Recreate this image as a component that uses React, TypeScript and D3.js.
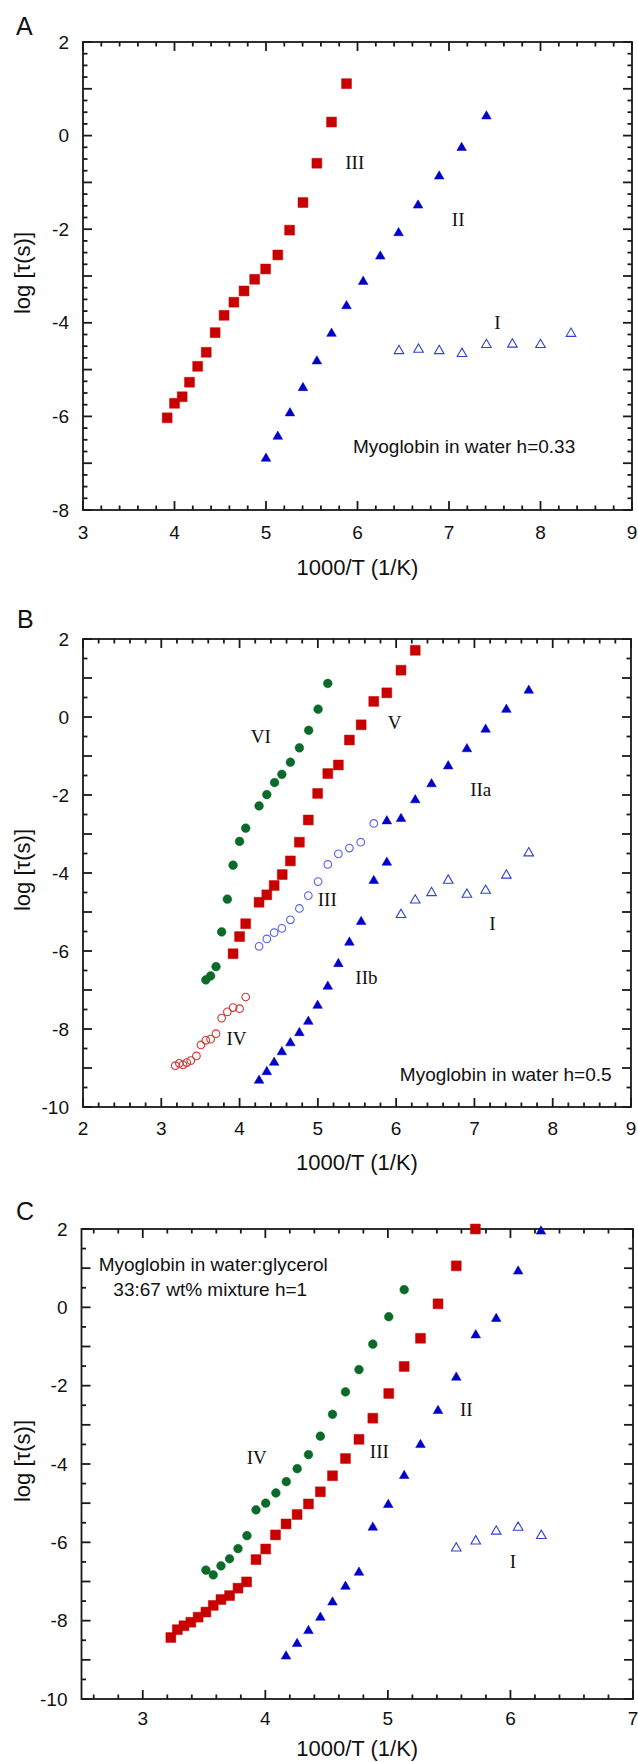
import React from 'react';
import * as d3 from 'd3';

// ---------------- Panel A data (1000/T, log tau) ----------------
const A_III: [number, number][] = [
  [3.92, -6.03], [4.0, -5.72], [4.084, -5.58], [4.164, -5.27], [4.253, -4.93], [4.347, -4.63],
  [4.444, -4.21], [4.542, -3.84], [4.649, -3.56], [4.76, -3.32], [4.876, -3.07], [4.996, -2.85],
  [5.129, -2.55], [5.258, -2.02], [5.404, -1.43], [5.556, -0.59], [5.716, 0.29], [5.88, 1.11],
];
const A_II: [number, number][] = [
  [5.0, -6.9], [5.129, -6.43], [5.262, -5.93], [5.404, -5.39], [5.556, -4.82], [5.716, -4.23],
  [5.88, -3.64], [6.062, -3.12], [6.249, -2.58], [6.449, -2.08], [6.662, -1.49], [6.893, -0.87],
  [7.138, -0.26], [7.409, 0.415],
];
const A_I: [number, number][] = [
  [6.453, -4.6], [6.667, -4.57], [6.893, -4.6], [7.142, -4.66], [7.409, -4.47], [7.693, -4.46],
  [8.0, -4.47], [8.333, -4.23],
];

// ---------------- Panel B data ----------------
const B_VI: [number, number][] = [
  [3.569, -6.74], [3.63, -6.64], [3.699, -6.4], [3.771, -5.51], [3.844, -4.67], [3.917, -3.8],
  [4.0, -3.19], [4.078, -2.85], [4.249, -2.28], [4.348, -1.99], [4.447, -1.68], [4.54, -1.47],
  [4.649, -1.16], [4.764, -0.79], [4.883, -0.34], [5.003, 0.2], [5.127, 0.86],
];
const B_V: [number, number][] = [
  [3.917, -6.07], [4.0, -5.63], [4.078, -5.3], [4.249, -4.75], [4.348, -4.56], [4.442, -4.32],
  [4.545, -4.04], [4.649, -3.69], [4.764, -3.21], [4.878, -2.64], [4.997, -1.96], [5.127, -1.45],
  [5.262, -1.23], [5.403, -0.59], [5.553, -0.2], [5.714, 0.4], [5.881, 0.62], [6.062, 1.2],
  [6.244, 1.71],
];
const B_IIa: [number, number][] = [
  [5.881, -2.67], [6.062, -2.61], [6.244, -2.13], [6.452, -1.72], [6.665, -1.26], [6.904, -0.82],
  [7.143, -0.32], [7.408, 0.19], [7.694, 0.68],
];
const B_IIb: [number, number][] = [
  [4.249, -9.32], [4.348, -9.1], [4.442, -8.86], [4.54, -8.59], [4.649, -8.36], [4.764, -8.1],
  [4.878, -7.81], [4.997, -7.4], [5.127, -6.91], [5.262, -6.33], [5.403, -5.78], [5.553, -5.25],
  [5.714, -4.2], [5.881, -3.73],
];
const B_I: [number, number][] = [
  [6.062, -5.07], [6.244, -4.7], [6.452, -4.51], [6.665, -4.19], [6.904, -4.55], [7.143, -4.45],
  [7.408, -4.06], [7.694, -3.49],
];
const B_III: [number, number][] = [
  [4.249, -5.88], [4.348, -5.69], [4.442, -5.53], [4.54, -5.42], [4.649, -5.2], [4.764, -4.91],
  [4.878, -4.58], [5.003, -4.22], [5.127, -3.78], [5.262, -3.51], [5.403, -3.36], [5.548, -3.21],
  [5.714, -2.73],
];
const B_IV: [number, number][] = [
  [3.179, -8.94], [3.231, -8.88], [3.278, -8.92], [3.325, -8.86], [3.377, -8.81], [3.449, -8.69],
  [3.506, -8.41], [3.569, -8.29], [3.63, -8.26], [3.699, -8.12], [3.771, -7.72], [3.844, -7.56],
  [3.917, -7.45], [4.0, -7.48], [4.078, -7.18],
];

// ---------------- Panel C data ----------------
const C_IV: [number, number][] = [
  [3.515, -6.71], [3.575, -6.83], [3.638, -6.6], [3.708, -6.42], [3.777, -6.16], [3.85, -5.83],
  [3.924, -5.17], [4.003, -5.0], [4.086, -4.74], [4.171, -4.45], [4.26, -4.12], [4.352, -3.76],
  [4.449, -3.29], [4.548, -2.73], [4.654, -2.16], [4.764, -1.59], [4.877, -0.94], [5.007, -0.24],
  [5.133, 0.45],
];
const C_III: [number, number][] = [
  [3.229, -8.43], [3.282, -8.23], [3.336, -8.13], [3.392, -8.04], [3.452, -7.91], [3.515, -7.78],
  [3.575, -7.61], [3.638, -7.46], [3.708, -7.36], [3.777, -7.17], [3.847, -7.01], [3.924, -6.44],
  [4.003, -6.17], [4.083, -5.81], [4.169, -5.53], [4.259, -5.29], [4.352, -5.02], [4.449, -4.71],
  [4.548, -4.3], [4.654, -3.86], [4.764, -3.37], [4.877, -2.83], [5.007, -2.2], [5.133, -1.51],
  [5.266, -0.79], [5.409, 0.09], [5.558, 1.06], [5.714, 2.0],
];
const C_II: [number, number][] = [
  [4.169, -8.91], [4.259, -8.59], [4.352, -8.26], [4.449, -7.92], [4.548, -7.53], [4.654, -7.13],
  [4.764, -6.77], [4.877, -5.62], [5.003, -5.04], [5.133, -4.3], [5.266, -3.51], [5.409, -2.64],
  [5.558, -1.79], [5.717, -0.71], [5.884, -0.29], [6.063, 0.92], [6.249, 1.94],
];
const C_I: [number, number][] = [
  [5.558, -6.15], [5.717, -5.97], [5.884, -5.72], [6.063, -5.62], [6.252, -5.83],
];

// ---------------- Tick labels ----------------
const A_xTicks = [3, 4, 5, 6, 7, 8, 9];
const A_yTicks = [-8, -6, -4, -2, 0, 2];
const B_xTicks = [2, 3, 4, 5, 6, 7, 8, 9];
const B_yTicks = [-10, -8, -6, -4, -2, 0, 2];
const C_xTicks = [3, 4, 5, 6, 7];
const C_yTicks = [-10, -8, -6, -4, -2, 0, 2];

// ---------------- Labels ----------------
const A_labels: [string, number, number][] = [['III', 5.97, -0.57], ['II', 7.1, -1.8], ['I', 7.53, -4.0]];
const B_labels: [string, number, number][] = [
  ['VI', 4.27, -0.51], ['V', 5.98, -0.15], ['IIa', 7.08, -1.86], ['III', 5.12, -4.68],
  ['I', 7.23, -5.3], ['IIb', 5.62, -6.67], ['IV', 3.96, -8.24],
];
const C_labels: [string, number, number][] = [['IV', 3.93, -3.83], ['III', 4.93, -3.68], ['II', 5.64, -2.61], ['I', 6.02, -6.49]];

const RED = '#c80000';
const BLUE = '#0000c8';
const GREEN = '#0b6a2a';
const LBLUE = '#3040d8';
const LBLUE2 = '#5a64e6';
const LRED = '#d03a3a';

type Style = { shape: 'square' | 'tri' | 'circle'; fill: string; stroke: string; open: boolean };
const S_SQ: Style = { shape: 'square', fill: RED, stroke: RED, open: false };
const S_TRI: Style = { shape: 'tri', fill: BLUE, stroke: BLUE, open: false };
const S_OTRI: Style = { shape: 'tri', fill: 'none', stroke: LBLUE, open: true };
const S_GC: Style = { shape: 'circle', fill: GREEN, stroke: GREEN, open: false };
const S_OBC: Style = { shape: 'circle', fill: 'none', stroke: LBLUE2, open: true };
const S_ORC: Style = { shape: 'circle', fill: 'none', stroke: LRED, open: true };

type Panel = {
  letter: string; lx: number; ly: number;
  l: number; r: number; t: number; b: number;
  xd: [number, number]; yd: [number, number];
  xt: number[]; yt: number[]; xMinor: number; yMinor: number;
  series: { data: [number, number][]; style: Style }[];
  labels: [string, number, number][];
  notes: { text: string; x: number; y: number; anchor: string }[];
  xTitleDy: number; xTickDy: number;
};

const panels: Panel[] = [
  {
    letter: 'A', lx: 16, ly: 35, l: 83, r: 632, t: 42, b: 510, xd: [3, 9], yd: [-8, 2],
    xt: A_xTicks, yt: A_yTicks, xMinor: 0.2, yMinor: 0.25,
    series: [{ data: A_I, style: S_OTRI }, { data: A_II, style: S_TRI }, { data: A_III, style: S_SQ }],
    labels: A_labels,
    notes: [{ text: 'Myoglobin in water h=0.33', x: 7.165, y: -6.64, anchor: 'middle' }],
    xTitleDy: 57, xTickDy: 22,
  },
  {
    letter: 'B', lx: 17, ly: 628, l: 83, r: 631, t: 639, b: 1107, xd: [2, 9], yd: [-10, 2],
    xt: B_xTicks, yt: B_yTicks, xMinor: 0.2, yMinor: 0.5,
    series: [
      { data: B_IV, style: S_ORC }, { data: B_III, style: S_OBC }, { data: B_I, style: S_OTRI },
      { data: B_IIb, style: S_TRI }, { data: B_IIa, style: S_TRI }, { data: B_V, style: S_SQ },
      { data: B_VI, style: S_GC },
    ],
    labels: B_labels,
    notes: [{ text: 'Myoglobin in water h=0.5', x: 7.4, y: -9.16, anchor: 'middle' }],
    xTitleDy: 55, xTickDy: 21,
  },
  {
    letter: 'C', lx: 16, ly: 1220, l: 81.5, r: 633, t: 1229, b: 1699, xd: [2.5, 7], yd: [-10, 2],
    xt: C_xTicks, yt: C_yTicks, xMinor: 0.2, yMinor: 0.5,
    series: [
      { data: C_I, style: S_OTRI }, { data: C_II, style: S_TRI }, { data: C_III, style: S_SQ },
      { data: C_IV, style: S_GC },
    ],
    labels: C_labels,
    notes: [
      { text: 'Myoglobin in water:glycerol', x: 2.64, y: 1.09, anchor: 'start' },
      { text: '33:67 wt% mixture h=1', x: 2.76, y: 0.45, anchor: 'start' },
    ],
    xTitleDy: 49, xTickDy: 19,
  },
];

const SANS = '"Liberation Sans", Arial, Helvetica, sans-serif';
const SERIF = '"Liberation Serif", "Times New Roman", serif';

function multiples(d0: number, d1: number, step: number): number[] {
  const out: number[] = [];
  const k0 = Math.ceil(d0 / step - 1e-6);
  const k1 = Math.floor(d1 / step + 1e-6);
  for (let k = k0; k <= k1; k++) out.push(+(k * step).toFixed(6));
  return out;
}

const symSquare = d3.symbol().type(d3.symbolSquare).size(98)();
const symTri = d3.symbol().type(d3.symbolTriangle).size(40)();
const symCircle = d3.symbol().type(d3.symbolCircle).size(60)();
const symCircleOpen = d3.symbol().type(d3.symbolCircle).size(46)();

function PanelView({ p }: { p: Panel }) {
  const x = d3.scaleLinear().domain(p.xd).range([p.l, p.r]);
  const y = d3.scaleLinear().domain(p.yd).range([p.b, p.t]);
  const isMajor = (v: number) => Math.abs(v - Math.round(v)) < 1e-6;
  const xm = multiples(p.xd[0], p.xd[1], p.xMinor);
  const ym = multiples(p.yd[0], p.yd[1], p.yMinor);
  const tc = '#1a1a1a';
  const sw = 1.8;
  return (
    <g>
      <text x={p.lx} y={p.ly} fontFamily={SANS} fontSize={25} fill="#111">{p.letter}</text>
      {xm.map((v, i) => {
        const L = isMajor(v) ? 9 : 4.5;
        return (
          <g key={'xt' + i} stroke={tc} strokeWidth={sw}>
            <line x1={x(v)} x2={x(v)} y1={p.b} y2={p.b - L} />
            <line x1={x(v)} x2={x(v)} y1={p.t} y2={p.t + L} />
          </g>
        );
      })}
      {ym.map((v, i) => {
        const L = isMajor(v) ? 9 : 4.5;
        return (
          <g key={'yt' + i} stroke={tc} strokeWidth={sw}>
            <line x1={p.l} x2={p.l + L} y1={y(v)} y2={y(v)} />
            <line x1={p.r} x2={p.r - L} y1={y(v)} y2={y(v)} />
          </g>
        );
      })}
      <rect x={p.l} y={p.t} width={p.r - p.l} height={p.b - p.t} fill="none" stroke={tc} strokeWidth={sw} />
      {p.xt.map((v) => (
        <text key={'xl' + v} x={x(v)} y={p.b + p.xTickDy} textAnchor="middle" dominantBaseline="central"
          fontFamily={SANS} fontSize={19} fill="#111">{String(v)}</text>
      ))}
      {p.yt.map((v) => (
        <text key={'yl' + v} x={p.l - 14} y={y(v)} textAnchor="end" dominantBaseline="central"
          fontFamily={SANS} fontSize={19} fill="#111">{String(v)}</text>
      ))}
      <text x={(p.l + p.r) / 2} y={p.b + p.xTitleDy} textAnchor="middle" dominantBaseline="central"
        fontFamily={SANS} fontSize={22} fill="#111">1000/T (1/K)</text>
      <text transform={`translate(22,${(p.t + p.b) / 2 - 3}) rotate(-90)`} textAnchor="middle" dominantBaseline="central"
        fontFamily={SANS} fontSize={22} fill="#111">log [τ(s)]</text>
      {p.series.map((s, si) => (
        <g key={'s' + si}>
          {s.data.map((d, i) => {
            const st = s.style;
            const path = st.shape === 'square' ? symSquare : st.shape === 'tri' ? symTri : (st.open ? symCircleOpen : symCircle);
            return (
              <path key={i} d={path as string} transform={`translate(${x(d[0])},${y(d[1])})`}
                fill={st.fill} stroke={st.stroke} strokeWidth={st.open ? 1.1 : 0.5} />
            );
          })}
        </g>
      ))}
      {p.labels.map((lb, i) => (
        <text key={'lb' + i} x={x(lb[1])} y={y(lb[2])} textAnchor="middle" dominantBaseline="central"
          fontFamily={SERIF} fontSize={19} fill="#111">{lb[0]}</text>
      ))}
      {p.notes.map((n, i) => (
        <text key={'n' + i} x={x(n.x)} y={y(n.y)} textAnchor={n.anchor as any} dominantBaseline="central"
          fontFamily={SANS} fontSize={19} fill="#111">{n.text}</text>
      ))}
    </g>
  );
}

export default function App() {
  return (
    <svg width={638} height={1762} viewBox="0 0 638 1762"
      style={{ position: 'absolute', left: 0, top: 0, background: '#fff', display: 'block' }}>
      <rect x={0} y={0} width={638} height={1762} fill="#fff" />
      {panels.map((p) => <PanelView key={p.letter} p={p} />)}
    </svg>
  );
}
